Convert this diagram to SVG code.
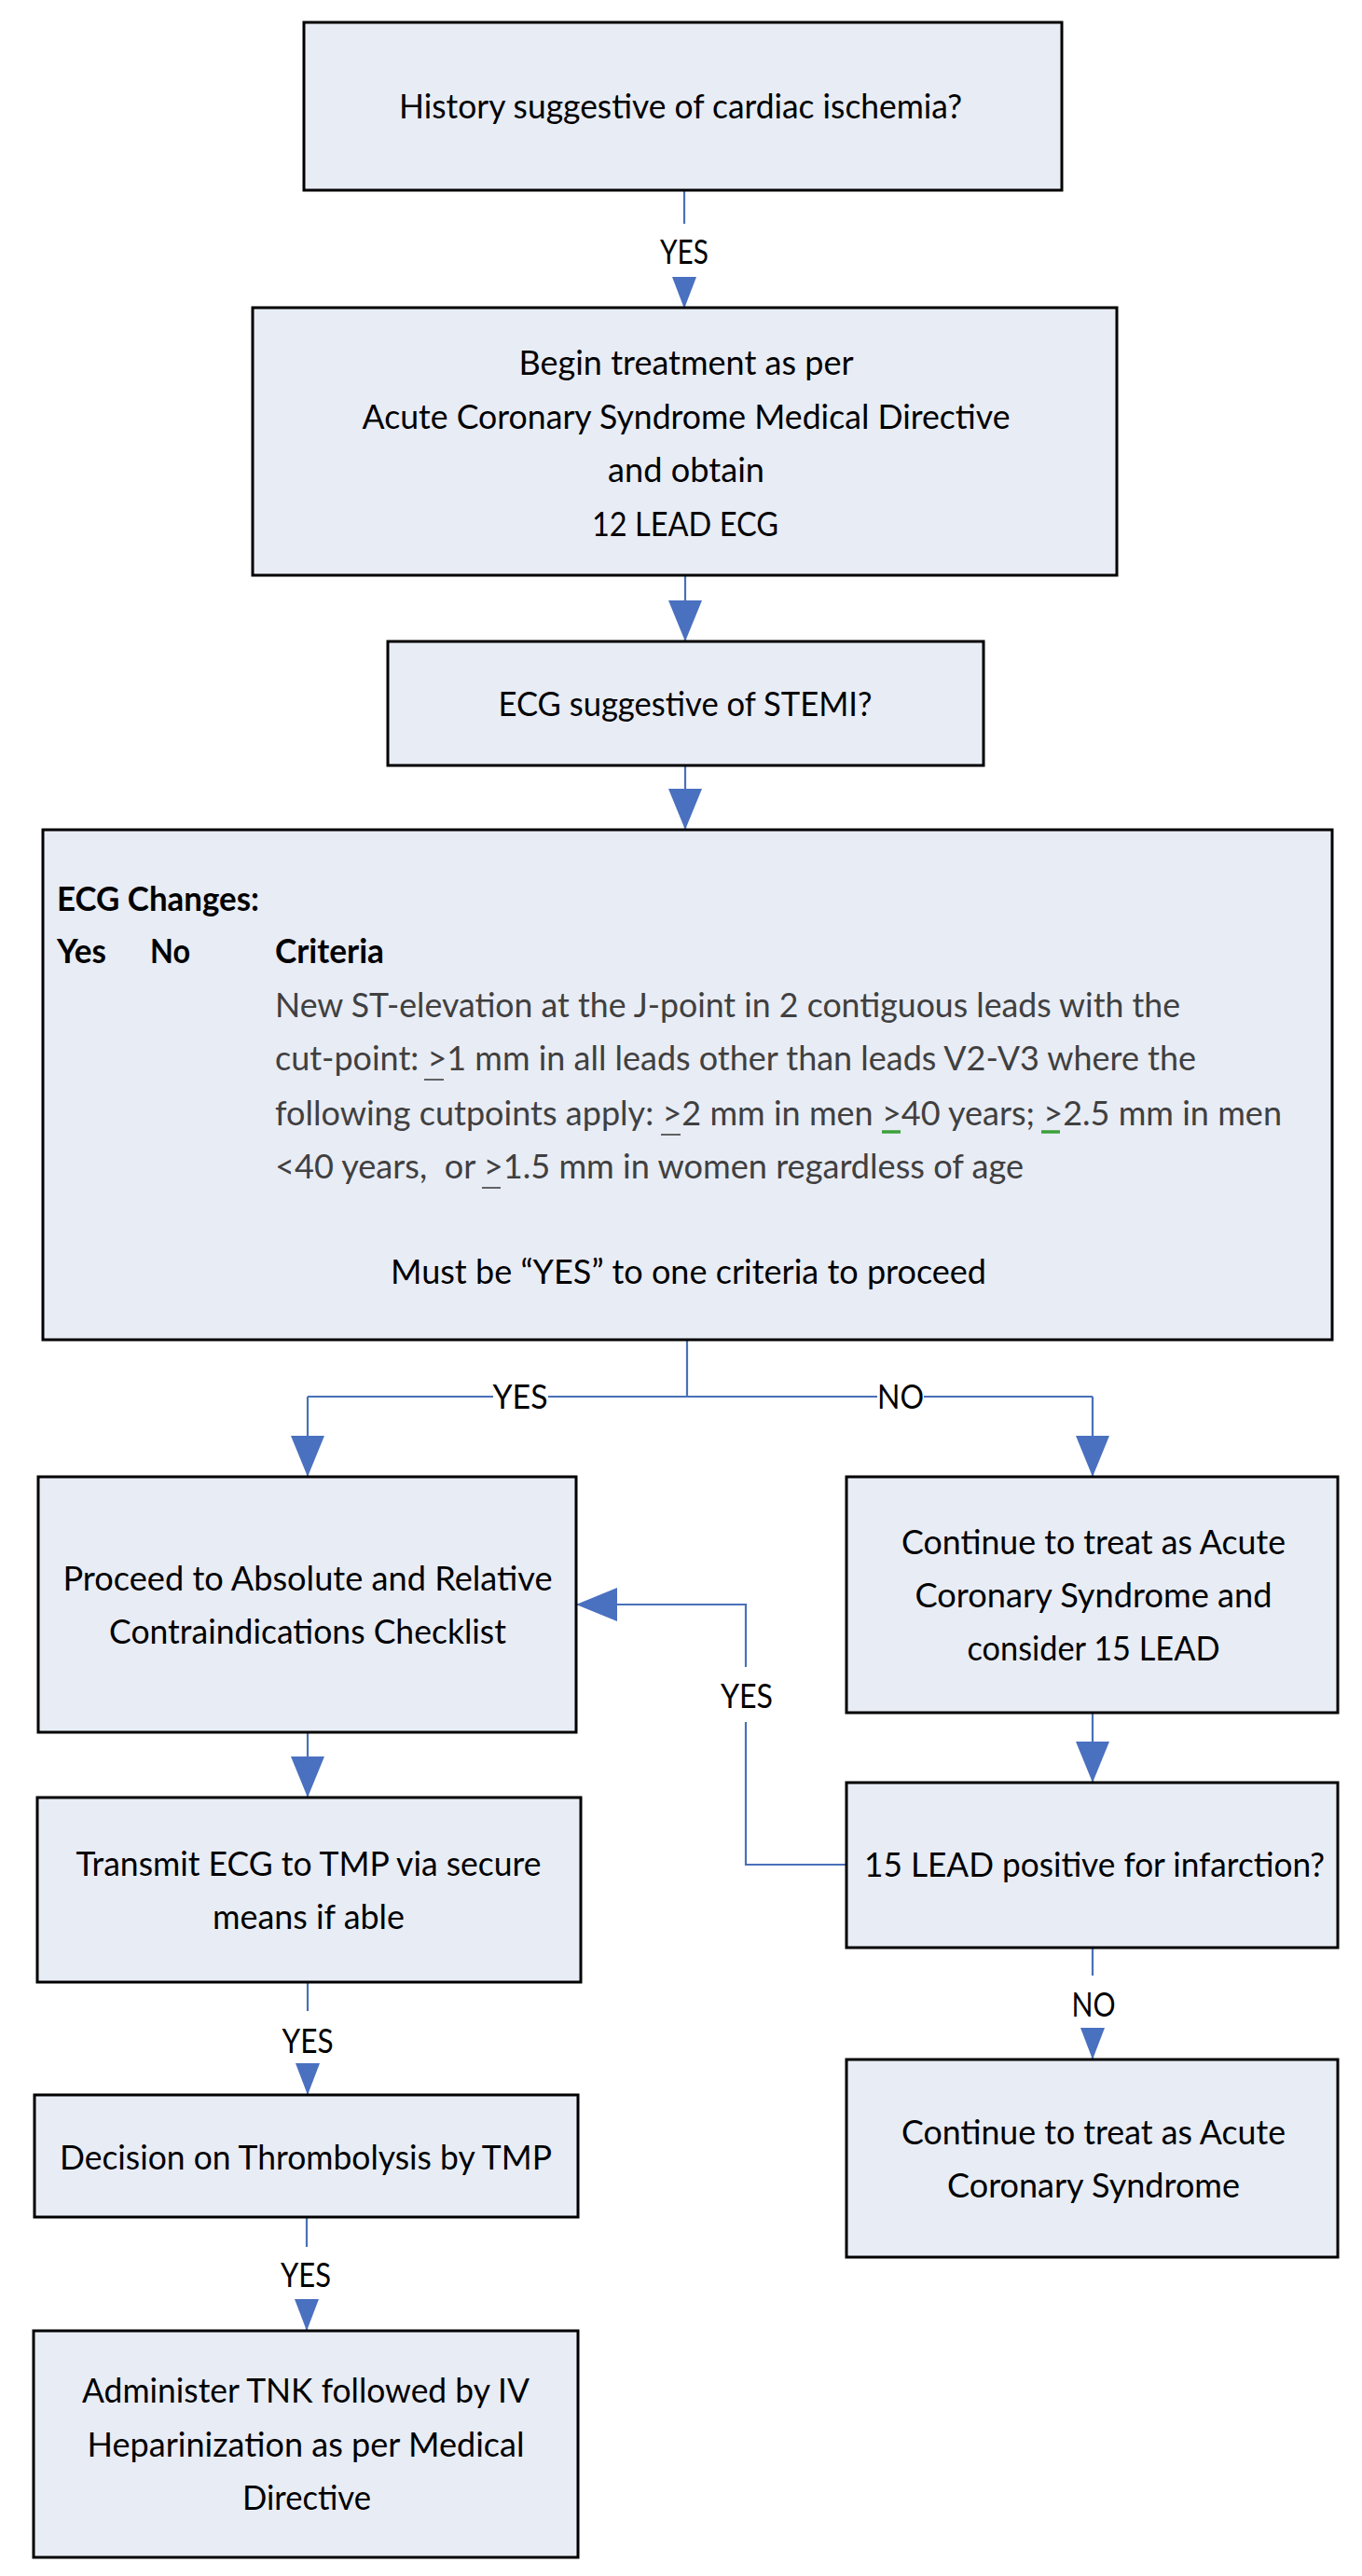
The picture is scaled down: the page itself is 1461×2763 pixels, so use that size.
<svg xmlns="http://www.w3.org/2000/svg" width="1461" height="2763" viewBox="0 0 1461 2763">
<defs>
<style>
.box{fill:#E8ECF5;stroke:#000;stroke-width:3}
.t{font-family:Lato,"Open Sans","Liberation Sans",sans-serif;font-size:37px;fill:#000;text-anchor:middle}
.tl{font-family:Lato,"Open Sans","Liberation Sans",sans-serif;font-size:37px;fill:#000}
.g{fill:#404040}
.b{font-weight:bold}
.c{fill:none;stroke:#4A70B8;stroke-width:2.2}
.lbl{font-family:Lato,"Open Sans","Liberation Sans",sans-serif;font-size:37px;fill:#000;text-anchor:middle}
.ul{stroke:#404040;stroke-width:1.6}
.ug{stroke:#3BA03B;stroke-width:3.5}
</style>
<marker id="big" markerUnits="userSpaceOnUse" markerWidth="44" markerHeight="36" refX="44" refY="18" orient="auto">
<path d="M0,0 L44,18 L0,36 Z" fill="#4A70C0"/>
</marker>
<marker id="small" markerUnits="userSpaceOnUse" markerWidth="34" markerHeight="26" refX="34" refY="13" orient="auto">
<path d="M0,0 L34,13 L0,26 Z" fill="#4A70C0"/>
</marker>
</defs>
<rect width="1461" height="2763" fill="#fff"/>

<g id="connectors">
<path class="c" d="M734,204 V240"/>
<path class="c" d="M734,297 V331" marker-end="url(#small)"/>
<path class="c" d="M735,617 V688" marker-end="url(#big)"/>
<path class="c" d="M735,821 V890" marker-end="url(#big)"/>
<path class="c" d="M737,1437 V1498 M737,1498 H588 M529,1498 H330 M737,1498 H941 M991,1498 H1172"/>
<path class="c" d="M330,1498 V1584" marker-end="url(#big)"/>
<path class="c" d="M1172,1498 V1584" marker-end="url(#big)"/>
<path class="c" d="M330,1858 V1928" marker-end="url(#big)"/>
<path class="c" d="M1172,1837 V1912" marker-end="url(#big)"/>
<path class="c" d="M908,2000 H800 V1847"/>
<path class="c" d="M800,1788 V1721 H618" marker-end="url(#big)"/>
<path class="c" d="M330,2126 V2157"/>
<path class="c" d="M330,2213 V2247" marker-end="url(#small)"/>
<path class="c" d="M1172,2089 V2119"/>
<path class="c" d="M1172,2175 V2209" marker-end="url(#small)"/>
<path class="c" d="M329,2378 V2410"/>
<path class="c" d="M329,2466 V2500" marker-end="url(#small)"/>
<text class="lbl" x="734" y="283" textLength="52" lengthAdjust="spacingAndGlyphs">YES</text>
<text class="lbl" x="558" y="1511" textLength="59" lengthAdjust="spacingAndGlyphs">YES</text>
<text class="lbl" x="966" y="1511" textLength="50" lengthAdjust="spacingAndGlyphs">NO</text>
<text class="lbl" x="801" y="1832" textLength="56" lengthAdjust="spacingAndGlyphs">YES</text>
<text class="lbl" x="330" y="2202" textLength="55" lengthAdjust="spacingAndGlyphs">YES</text>
<text class="lbl" x="1173" y="2163" textLength="47" lengthAdjust="spacingAndGlyphs">NO</text>
<text class="lbl" x="328" y="2453" textLength="54" lengthAdjust="spacingAndGlyphs">YES</text>
</g>

<g id="history">
<rect class="box" x="326" y="24" width="813" height="180"/>
<text class="t" x="730" y="127" textLength="604" lengthAdjust="spacingAndGlyphs">History suggestive of cardiac ischemia?</text>
</g>

<g id="begin-treatment">
<rect class="box" x="271" y="330" width="927" height="287"/>
<text class="t" x="736" y="402" textLength="359" lengthAdjust="spacingAndGlyphs">Begin treatment as per</text>
<text class="t" x="736" y="460" textLength="695" lengthAdjust="spacingAndGlyphs">Acute Coronary Syndrome Medical Directive</text>
<text class="t" x="736" y="517" textLength="168" lengthAdjust="spacingAndGlyphs">and obtain</text>
<text class="t" x="735" y="575" textLength="200" lengthAdjust="spacingAndGlyphs">12 LEAD ECG</text>
</g>

<g id="ecg-stemi">
<rect class="box" x="416" y="688" width="639" height="133"/>
<text class="t" x="735" y="768" textLength="401" lengthAdjust="spacingAndGlyphs">ECG suggestive of STEMI?</text>
</g>

<g id="ecg-changes">
<rect class="box" x="46" y="890" width="1383" height="547"/>
<text class="tl b" x="61" y="977" textLength="217" lengthAdjust="spacingAndGlyphs">ECG Changes:</text>
<text class="tl b" x="61" y="1033" textLength="53" lengthAdjust="spacingAndGlyphs">Yes</text>
<text class="tl b" x="161" y="1033" textLength="43" lengthAdjust="spacingAndGlyphs">No</text>
<text class="tl b" x="295" y="1033" textLength="117" lengthAdjust="spacingAndGlyphs">Criteria</text>
<text class="tl g" x="295" y="1091" textLength="971" lengthAdjust="spacingAndGlyphs">New ST-elevation at the J-point in 2 contiguous leads with the</text>
<text class="tl g" x="295" y="1148" textLength="988" lengthAdjust="spacingAndGlyphs">cut-point: &gt;1 mm in all leads other than leads V2-V3 where the</text>
<text class="tl g" x="295" y="1207" textLength="1080" lengthAdjust="spacingAndGlyphs">following cutpoints apply: &gt;2 mm in men &gt;40 years; &gt;2.5 mm in men</text>
<text class="tl g" x="295" y="1264" textLength="803" lengthAdjust="spacingAndGlyphs">&lt;40 years,&#160; or &gt;1.5 mm in women regardless of age</text>
<line class="ul" x1="455" y1="1158" x2="476" y2="1158"/>
<line class="ul" x1="709" y1="1217" x2="730" y2="1217"/>
<line class="ug" x1="946" y1="1214" x2="966" y2="1214"/>
<line class="ug" x1="1117" y1="1214" x2="1137" y2="1214"/>
<line class="ul" x1="517" y1="1274" x2="537" y2="1274"/>
<text class="tl" x="419" y="1377" textLength="639" lengthAdjust="spacingAndGlyphs">Must be “YES” to one criteria to proceed</text>
</g>

<g id="contraindications">
<rect class="box" x="41" y="1584" width="577" height="274"/>
<text class="t" x="330" y="1706" textLength="525" lengthAdjust="spacingAndGlyphs">Proceed to Absolute and Relative</text>
<text class="t" x="330" y="1763" textLength="426" lengthAdjust="spacingAndGlyphs">Contraindications Checklist</text>
</g>

<g id="continue-acs-15">
<rect class="box" x="908" y="1584" width="527" height="253"/>
<text class="t" x="1173" y="1667" textLength="412" lengthAdjust="spacingAndGlyphs">Continue to treat as Acute</text>
<text class="t" x="1173" y="1724" textLength="383" lengthAdjust="spacingAndGlyphs">Coronary Syndrome and</text>
<text class="t" x="1173" y="1781" textLength="271" lengthAdjust="spacingAndGlyphs">consider 15 LEAD</text>
</g>

<g id="transmit-ecg">
<rect class="box" x="40" y="1928" width="583" height="198"/>
<text class="t" x="331" y="2012" textLength="499" lengthAdjust="spacingAndGlyphs">Transmit ECG to TMP via secure</text>
<text class="t" x="331" y="2069" textLength="206" lengthAdjust="spacingAndGlyphs">means if able</text>
</g>

<g id="lead15-positive">
<rect class="box" x="908" y="1912" width="527" height="177"/>
<text class="t" x="1174" y="2013" textLength="494" lengthAdjust="spacingAndGlyphs">15 LEAD positive for infarction?</text>
</g>

<g id="decision-thrombolysis">
<rect class="box" x="37" y="2247" width="583" height="131"/>
<text class="t" x="328" y="2327" textLength="528" lengthAdjust="spacingAndGlyphs">Decision on Thrombolysis by TMP</text>
</g>

<g id="continue-acs">
<rect class="box" x="908" y="2209" width="527" height="212"/>
<text class="t" x="1173" y="2300" textLength="412" lengthAdjust="spacingAndGlyphs">Continue to treat as Acute</text>
<text class="t" x="1173" y="2357" textLength="314" lengthAdjust="spacingAndGlyphs">Coronary Syndrome</text>
</g>

<g id="administer-tnk">
<rect class="box" x="36" y="2500" width="584" height="243"/>
<text class="t" x="328" y="2577" textLength="480" lengthAdjust="spacingAndGlyphs">Administer TNK followed by IV</text>
<text class="t" x="328" y="2635" textLength="469" lengthAdjust="spacingAndGlyphs">Heparinization as per Medical</text>
<text class="t" x="329" y="2692" textLength="138" lengthAdjust="spacingAndGlyphs">Directive</text>
</g>
</svg>
